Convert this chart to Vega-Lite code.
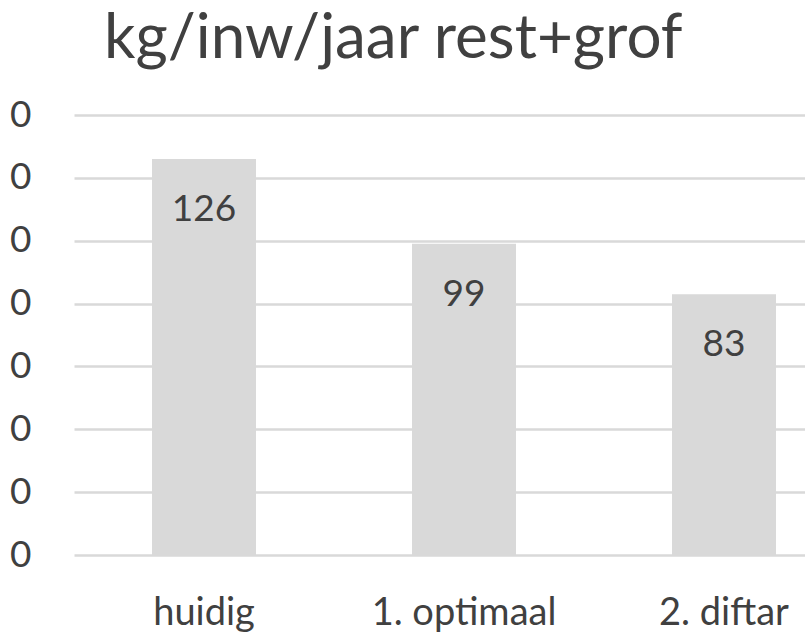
{
  "$schema": "https://vega.github.io/schema/vega-lite/v6.json",
  "width": 731,
  "height": 440,
  "autosize": "none",
  "padding": {"left": 74, "top": 115, "right": 0, "bottom": 78},
  "background": "white",
  "title": {
    "text": "kg/inw/jaar rest+grof",
    "anchor": "start",
    "frame": "group",
    "dx": 30,
    "offset": 25,
    "font": "Lato",
    "fontSize": 62,
    "fontWeight": "normal",
    "color": "#404040"
  },
  "data": {
    "values": [
      {"scenario": "huidig", "kg": 126},
      {"scenario": "1. optimaal", "kg": 99},
      {"scenario": "2. diftar", "kg": 83}
    ]
  },
  "config": {
    "view": {"stroke": null},
    "font": "Lato"
  },
  "encoding": {
    "x": {
      "field": "scenario",
      "type": "nominal",
      "sort": null,
      "scale": {"paddingInner": 0.6, "paddingOuter": 0.2058, "align": 0.729},
      "axis": {
        "title": null,
        "labelAngle": 0,
        "domain": false,
        "ticks": false,
        "labelFont": "Lato",
        "labelFontSize": 38,
        "labelColor": "#404040",
        "labelBaseline": "alphabetic",
        "labelLimit": 0,
        "labelPadding": 69
      }
    },
    "y": {
      "field": "kg",
      "type": "quantitative",
      "scale": {"domain": [0, 140], "nice": false},
      "axis": {
        "title": null,
        "values": [0, 20, 40, 60, 80, 100, 120, 140],
        "labelExpr": "slice(datum.label, -1)",
        "domain": false,
        "ticks": false,
        "grid": true,
        "gridColor": "#d9d9d9",
        "gridWidth": 2.5,
        "labelFont": "Lato",
        "labelFontSize": 37,
        "labelColor": "#404040",
        "labelBaseline": "middle",
        "labelPadding": 43
      }
    }
  },
  "layer": [
    {"mark": {"type": "bar", "color": "#d9d9d9"}},
    {
      "mark": {"type": "text", "baseline": "alphabetic", "dy": 62, "fontSize": 37, "font": "Lato", "color": "#404040"},
      "encoding": {"text": {"field": "kg", "type": "quantitative"}}
    }
  ]
}
